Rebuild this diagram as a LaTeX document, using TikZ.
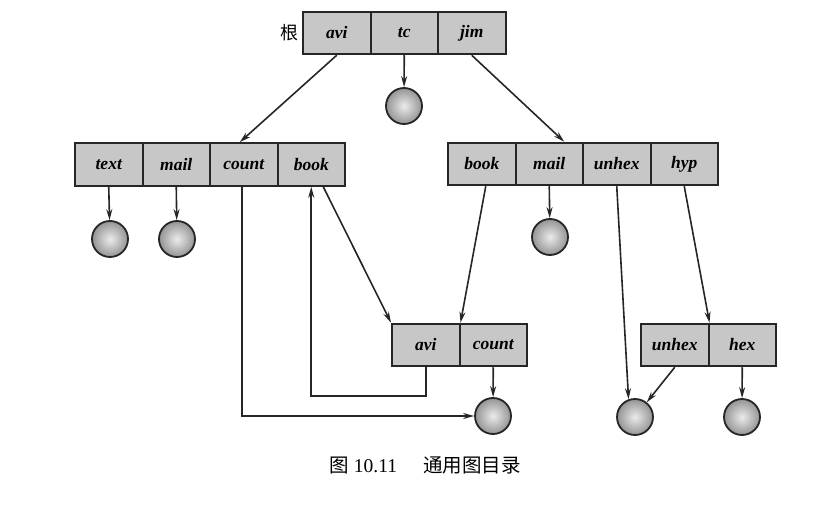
\documentclass[tikz,border=0pt]{standalone}
\usepackage{fontspec}
\setmainfont{Liberation Serif}
\newfontfamily\cjk{Noto Sans CJK SC}
\usetikzlibrary{arrows.meta}
\tikzset{
	cell/.style={draw=black!85, line width=2pt, fill=black!22, minimum width=67.5pt, minimum height=42.5pt, inner sep=0pt, font=\fontsize{17.5}{21}\selectfont\bfseries\itshape},
	file/.style={circle, draw=black!85, line width=1.8pt, inner color=black!8, outer color=black!42, minimum size=36pt, inner sep=0pt},
	link/.style={draw=black!85, line width=1.6pt, -{Stealth[length=11pt,width=6pt]}}
}
\newcommand{\drawdir}[4]{
	\foreach \lbl [count=\i] in {#4} {
		\node[cell] (#1\i) at (#2+67.5*\i-33.75,#3) {\lbl};
	}
}
\newcommand{\drawfile}[3]{
	\node[file] (#1) at (#2,#3) {};
}
\begin{document}
\begin{tikzpicture}[x=1pt,y=-1pt]
	\useasboundingbox (0,0) rectangle (836,505);
	\begin{scope}
		\drawdir{root}{303}{33}{avi,tc,jim}
		\drawdir{left}{75}{164.5}{text,mail,count,book}
		\drawdir{right}{448}{164}{book,mail,unhex,hyp}
		\drawdir{mid}{392}{345}{avi,count}
		\drawdir{low}{641}{345}{unhex,hex}
		\node[font=\cjk\fontsize{18}{20}\selectfont, anchor=east, inner sep=3pt] (rootname) at (root1.west) {根};
		\drawfile{tcfile}{404}{106}
		\drawfile{textfile}{110}{239}
		\drawfile{mailfile}{177}{239}
		\drawfile{rmailfile}{550}{237}
		\drawfile{countfile}{493}{416}
		\drawfile{unhexfile}{635}{417}
		\drawfile{hexfile}{742}{417}
		\draw[link] (root1.south) -- ([xshift=-4pt]left3.north);
		\draw[link] (root2.south) -- (tcfile);
		\draw[link] (root3.south) -- ([xshift=15pt]right2.north);
		\draw[link] (left1.south) -- (textfile);
		\draw[link] (left2.south) -- (mailfile);
		\draw[link] ([xshift=-1.5pt]left3.south) |- (countfile.west);
		\draw[link] (mid1.south) -- ++(0,29) -| (left4.south);
		\draw[link] ([xshift=12pt]left4.south) -- (mid1.north west);
		\draw[link] ([xshift=4pt]right1.south) -- (mid1.north east);
		\draw[link] (right2.south) -- (rmailfile);
		\draw[link] (right3.south) -- (unhexfile.110);
		\draw[link] (right4.south) -- (low1.north east);
		\draw[link] (low1.south) -- (unhexfile);
		\draw[link] (low2.south) -- (hexfile);
		\draw[link] (mid2.south) -- (countfile);
	\end{scope}
	\node[font=\fontsize{19.5}{22}\selectfont] (caption) at (425,465) {{\cjk 图}\hspace{5pt}10.11\hspace{26pt}{\cjk 通用图目录}};
\end{tikzpicture}
\end{document}
